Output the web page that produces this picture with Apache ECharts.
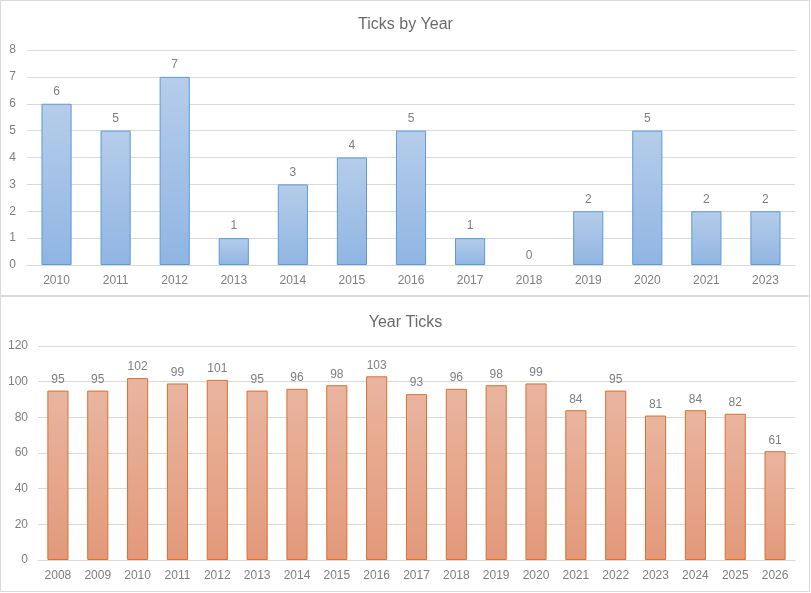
<!DOCTYPE html>
<html>
<head>
<meta charset="utf-8">
<script src="https://cdn.jsdelivr.net/npm/echarts@6/dist/echarts.min.js"></script>
<style>
html,body{margin:0;padding:0;background:#fff;}
#c{width:811px;height:593px;}
</style>
</head>
<body>
<div id="c"></div>
<script>
var topTitle = 'Ticks by Year';
var topCategories = ['2010','2011','2012','2013','2014','2015','2016','2017','2018','2019','2020','2021','2023'];
var topValues = [6,5,7,1,3,4,5,1,0,2,5,2,2];
var bottomTitle = 'Year Ticks';
var bottomCategories = ['2008','2009','2010','2011','2012','2013','2014','2015','2016','2017','2018','2019','2020','2021','2022','2023','2024','2025','2026'];
var bottomValues = [95,95,102,99,101,95,96,98,103,93,96,98,99,84,95,81,84,82,61];

var FONT = '"Liberation Sans", Arial, sans-serif';
var labelColor = '#7f7f7f';
var gridColor = '#d9d9d9';

function grad(a, b) {
  return new echarts.graphic.LinearGradient(0, 0, 0, 1, [{offset: 0, color: a}, {offset: 1, color: b}]);
}
function items(values) {
  return values.map(function (v) {
    return v === 0 ? {value: v, itemStyle: {borderWidth: 0}, label: {distance: 3}} : v;
  });
}

var chart = echarts.init(document.getElementById('c'), null, {renderer: 'canvas'});
chart.setOption({
  animation: false,
  backgroundColor: '#fff',
  textStyle: {fontFamily: FONT},
  graphic: [
    {type: 'rect', shape: {x: 0.5, y: 0.5, width: 809, height: 295}, style: {fill: 'none', stroke: gridColor, lineWidth: 1}, z: -1},
    {type: 'rect', shape: {x: 0.5, y: 296.5, width: 809, height: 295}, style: {fill: 'none', stroke: gridColor, lineWidth: 1}, z: -1}
  ],
  title: [
    {text: topTitle, left: 'center', top: 12, textStyle: {fontFamily: FONT, fontSize: 16, fontWeight: 'normal', color: '#6b6b6b'}},
    {text: bottomTitle, left: 'center', top: 310, textStyle: {fontFamily: FONT, fontSize: 16, fontWeight: 'normal', color: '#6b6b6b'}}
  ],
  grid: [
    {left: 27, right: 16, top: 50, height: 215},
    {left: 38, right: 16, top: 346, height: 214}
  ],
  xAxis: [
    {type: 'category', gridIndex: 0, data: topCategories,
     axisLine: {lineStyle: {color: gridColor}}, axisTick: {show: false},
     axisLabel: {color: labelColor, fontSize: 12, margin: 10, fontFamily: FONT}},
    {type: 'category', gridIndex: 1, data: bottomCategories,
     axisLine: {lineStyle: {color: gridColor}}, axisTick: {show: false},
     axisLabel: {color: labelColor, fontSize: 12, margin: 10, fontFamily: FONT}}
  ],
  yAxis: [
    {type: 'value', gridIndex: 0, min: 0, max: 8, interval: 1,
     axisLine: {show: false}, axisTick: {show: false},
     splitLine: {lineStyle: {color: gridColor}},
     axisLabel: {color: labelColor, fontSize: 12, margin: 11, fontFamily: FONT}},
    {type: 'value', gridIndex: 1, min: 0, max: 120, interval: 20,
     axisLine: {show: false}, axisTick: {show: false},
     splitLine: {lineStyle: {color: gridColor}},
     axisLabel: {color: labelColor, fontSize: 12, margin: 10, fontFamily: FONT}}
  ],
  series: [
    {type: 'bar', xAxisIndex: 0, yAxisIndex: 0, data: items(topValues), barWidth: '51%',
     itemStyle: {color: grad('#b6cdea', '#90b5e3'), borderColor: '#5b9bd5', borderWidth: 1},
     label: {show: true, position: 'top', distance: 6, color: labelColor, fontSize: 12, fontFamily: FONT}},
    {type: 'bar', xAxisIndex: 1, yAxisIndex: 1, data: items(bottomValues), barWidth: '53%',
     itemStyle: {color: grad('#e9b5a0', '#e3997a'), borderColor: '#d8702f', borderWidth: 1},
     label: {show: true, position: 'top', distance: 5, color: labelColor, fontSize: 12, fontFamily: FONT}}
  ]
});
</script>
</body>
</html>
